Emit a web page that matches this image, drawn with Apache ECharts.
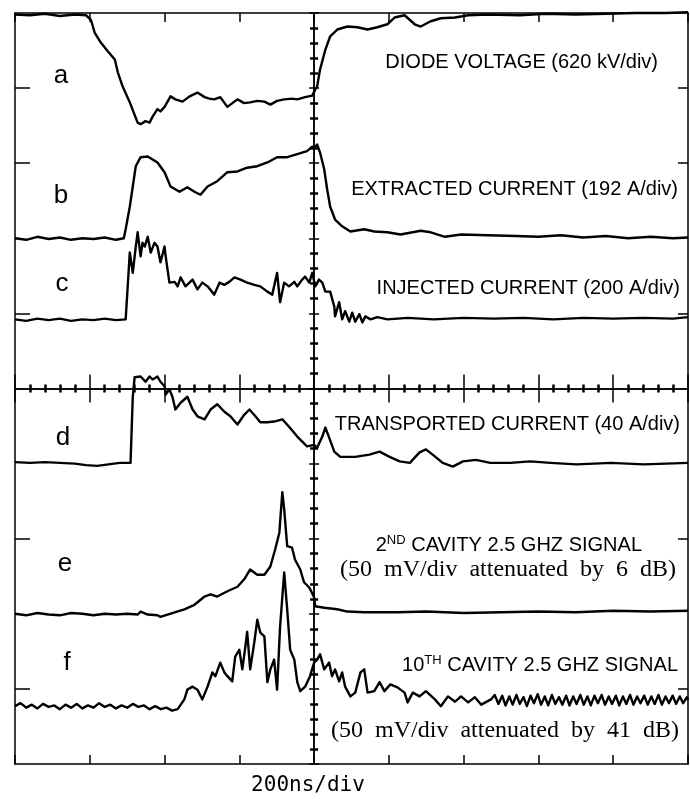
<!DOCTYPE html>
<html>
<head>
<meta charset="utf-8">
<script src="https://cdn.jsdelivr.net/npm/echarts@6/dist/echarts.min.js"></script>
<style>
  html, body { margin: 0; padding: 0; background: #fff; }
  #chart { width: 690px; height: 799px; }
</style>
</head>
<body>
<div id="chart"></div>
<script>
// time in ns (200 ns/div, 0 = centre line), amplitude in divisions
var traceA = [[-800,4.98],[-760,4.97],[-720,4.99],[-680,4.96],[-640,4.98],[-610,4.97],[-597,4.91],[-587,4.74],[-571,4.61],[-552,4.49],[-533,4.38],[-525,4.21],[-512,4.02],[-493,3.81],[-472,3.54],[-464,3.52],[-451,3.56],[-440,3.54],[-432,3.62],[-419,3.72],[-411,3.69],[-400,3.75],[-384,3.89],[-371,3.85],[-352,3.82],[-333,3.89],[-312,3.94],[-293,3.88],[-280,3.86],[-267,3.85],[-251,3.88],[-232,3.75],[-205,3.85],[-187,3.80],[-171,3.81],[-152,3.83],[-133,3.82],[-117,3.78],[-99,3.83],[-80,3.85],[-59,3.86],[-45,3.85],[-24,3.88],[-5,3.90],[3,3.98],[8,4.02],[16,4.25],[30,4.51],[43,4.69],[62,4.78],[89,4.82],[116,4.81],[143,4.78],[169,4.81],[196,4.85],[215,4.94],[242,4.97],[269,4.85],[285,4.82],[312,4.89],[339,4.93],[377,4.94],[412,4.97],[465,4.98],[550,4.97],[620,4.99],[700,4.98],[780,4.99],[860,5.0],[940,5.0],[1000,5.01]];

var traceB = [[-800,2.0],[-770,1.98],[-740,2.02],[-710,1.99],[-680,2.01],[-650,1.98],[-620,2.0],[-590,1.99],[-560,2.01],[-530,1.98],[-509,2.0],[-504,2.12],[-493,2.42],[-485,2.69],[-477,2.96],[-464,3.08],[-445,3.09],[-432,3.05],[-419,3.01],[-400,2.88],[-384,2.69],[-360,2.62],[-339,2.68],[-320,2.62],[-304,2.58],[-285,2.69],[-259,2.76],[-232,2.88],[-205,2.89],[-179,2.94],[-152,2.96],[-125,3.01],[-99,3.08],[-72,3.08],[-45,3.12],[-19,3.16],[-5,3.22],[3,3.21],[8,3.25],[16,3.14],[27,2.92],[35,2.65],[43,2.42],[56,2.25],[75,2.16],[97,2.09],[134,2.12],[161,2.09],[196,2.08],[231,2.05],[285,2.10],[312,2.08],[350,2.02],[393,2.05],[465,2.04],[540,2.03],[600,2.02],[660,2.04],[720,2.01],[780,2.03],[840,2.0],[900,2.02],[960,2.0],[1000,2.01]];

var traceC = [[-800,0.92],[-770,0.90],[-740,0.93],[-710,0.91],[-680,0.93],[-650,0.90],[-620,0.92],[-590,0.91],[-560,0.93],[-530,0.91],[-504,0.92],[-493,1.81],[-485,1.54],[-480,1.76],[-477,1.89],[-472,2.08],[-464,1.76],[-459,1.94],[-453,1.89],[-445,2.02],[-437,1.81],[-427,1.94],[-419,1.89],[-411,1.68],[-400,1.89],[-397,1.76],[-387,1.41],[-373,1.42],[-365,1.36],[-357,1.48],[-344,1.36],[-325,1.45],[-312,1.32],[-299,1.41],[-285,1.36],[-267,1.25],[-253,1.41],[-240,1.38],[-227,1.42],[-213,1.48],[-197,1.45],[-179,1.41],[-160,1.38],[-144,1.36],[-125,1.29],[-112,1.25],[-99,1.54],[-91,1.15],[-80,1.41],[-67,1.36],[-53,1.42],[-45,1.36],[-32,1.45],[-24,1.49],[-13,1.41],[-5,1.54],[3,1.36],[13,1.45],[22,1.41],[30,1.29],[43,1.29],[54,1.09],[56,0.96],[67,1.15],[75,0.92],[83,1.03],[94,0.89],[102,1.01],[110,0.89],[121,0.99],[129,0.88],[137,0.96],[151,0.92],[169,0.95],[196,0.92],[250,0.94],[320,0.92],[400,0.94],[480,0.93],[560,0.94],[640,0.92],[720,0.94],[800,0.93],[880,0.94],[960,0.93],[1000,0.95]];

var traceD = [[-800,-0.98],[-760,-0.99],[-720,-0.98],[-680,-0.99],[-640,-1.0],[-610,-1.02],[-580,-1.03],[-550,-1.01],[-520,-0.99],[-491,-0.99],[-485,-0.11],[-480,0.15],[-464,0.16],[-451,0.09],[-440,0.16],[-432,0.12],[-419,0.16],[-411,0.09],[-400,0.03],[-397,-0.08],[-387,-0.01],[-379,-0.11],[-371,-0.28],[-357,-0.19],[-339,-0.11],[-325,-0.28],[-312,-0.37],[-293,-0.41],[-277,-0.28],[-259,-0.21],[-240,-0.31],[-224,-0.37],[-205,-0.48],[-187,-0.35],[-173,-0.28],[-157,-0.37],[-144,-0.45],[-125,-0.45],[-107,-0.44],[-85,-0.41],[-67,-0.51],[-45,-0.64],[-19,-0.77],[0,-0.75],[8,-0.79],[22,-0.64],[30,-0.52],[40,-0.65],[54,-0.84],[70,-0.91],[110,-0.91],[148,-0.88],[175,-0.84],[202,-0.91],[229,-0.97],[256,-0.99],[282,-0.85],[299,-0.81],[317,-0.88],[344,-0.99],[371,-1.04],[398,-0.97],[433,-0.95],[471,-0.99],[525,-0.99],[578,-0.97],[632,-0.99],[702,-1.01],[794,-0.99],[882,-1.01],[1000,-0.99]];

var traceE = [[-800,-3.0],[-770,-3.02],[-740,-2.99],[-710,-3.01],[-680,-3.02],[-650,-2.99],[-620,-3.0],[-590,-3.02],[-560,-3.0],[-530,-3.01],[-500,-3.0],[-472,-3.01],[-464,-2.97],[-445,-3.01],[-419,-3.02],[-411,-3.04],[-392,-3.01],[-373,-2.98],[-347,-2.94],[-320,-2.88],[-293,-2.77],[-277,-2.74],[-259,-2.77],[-232,-2.70],[-205,-2.64],[-187,-2.54],[-171,-2.41],[-152,-2.48],[-133,-2.48],[-117,-2.37],[-104,-2.14],[-93,-1.92],[-85,-1.38],[-80,-1.61],[-72,-2.10],[-59,-2.12],[-51,-2.28],[-37,-2.41],[-27,-2.58],[-13,-2.65],[0,-2.78],[3,-2.90],[8,-2.90],[27,-2.92],[62,-2.94],[89,-2.97],[134,-2.98],[223,-2.98],[300,-2.97],[400,-2.99],[500,-2.98],[600,-2.97],[700,-2.98],[800,-2.96],[900,-2.97],[1000,-2.96]];

var traceF = [[-800,-4.23],[-785,-4.19],[-770,-4.25],[-755,-4.21],[-740,-4.26],[-725,-4.2],[-710,-4.24],[-695,-4.22],[-680,-4.27],[-665,-4.21],[-650,-4.25],[-635,-4.2],[-620,-4.26],[-605,-4.22],[-590,-4.25],[-575,-4.19],[-560,-4.24],[-545,-4.21],[-530,-4.26],[-515,-4.22],[-500,-4.25],[-485,-4.2],[-470,-4.24],[-455,-4.22],[-440,-4.27],[-425,-4.23],[-410,-4.27],[-395,-4.25],[-380,-4.29],[-365,-4.27],[-347,-4.14],[-339,-4.01],[-325,-3.97],[-312,-4.01],[-299,-4.14],[-285,-3.97],[-272,-3.78],[-264,-3.83],[-251,-3.65],[-240,-3.78],[-232,-3.83],[-219,-3.90],[-211,-3.57],[-200,-3.48],[-192,-3.74],[-184,-3.44],[-179,-3.24],[-171,-3.74],[-160,-3.38],[-152,-3.08],[-144,-3.25],[-133,-3.30],[-125,-3.91],[-117,-3.74],[-107,-3.61],[-99,-4.01],[-91,-3.17],[-80,-2.45],[-72,-2.94],[-64,-3.48],[-53,-3.61],[-45,-3.91],[-37,-4.03],[-24,-3.97],[-11,-3.83],[0,-3.65],[8,-3.61],[16,-3.54],[27,-3.74],[40,-3.65],[48,-3.83],[56,-3.74],[67,-3.90],[75,-3.78],[83,-3.97],[97,-4.10],[110,-4.05],[124,-3.78],[134,-3.74],[143,-4.05],[161,-4.03],[175,-3.91],[188,-4.03],[204,-3.94],[223,-3.98],[242,-4.05],[250,-4.18],[264,-4.05],[282,-4.10],[299,-4.03],[323,-4.14],[339,-4.23],[358,-4.10],[377,-4.17],[393,-4.10],[412,-4.18],[430,-4.11],[447,-4.21],[473,-4.14],[483,-4.08],[493,-4.20],[503,-4.09],[512,-4.22],[522,-4.10],[531,-4.21],[541,-4.08],[550,-4.20],[560,-4.11],[569,-4.23],[579,-4.09],[588,-4.19],[598,-4.07],[607,-4.21],[617,-4.10],[626,-4.22],[636,-4.08],[645,-4.20],[655,-4.11],[664,-4.21],[674,-4.09],[683,-4.22],[693,-4.10],[702,-4.20],[712,-4.08],[721,-4.21],[731,-4.10],[740,-4.22],[750,-4.09],[759,-4.19],[769,-4.08],[778,-4.21],[788,-4.10],[797,-4.20],[807,-4.09],[816,-4.22],[826,-4.10],[835,-4.20],[845,-4.08],[854,-4.21],[864,-4.10],[873,-4.19],[883,-4.09],[892,-4.21],[902,-4.10],[911,-4.20],[921,-4.08],[930,-4.21],[940,-4.10],[949,-4.19],[959,-4.09],[968,-4.20],[978,-4.10],[987,-4.19],[997,-4.11],[1000,-4.15]];

var traces = [traceA, traceB, traceC, traceD, traceE, traceF];
var traceLetters = ["a", "b", "c", "d", "e", "f"];
var sideTicks = [4, 3, 1, -2, -4]; // graticule marks left on the frame edges

var chart = echarts.init(document.getElementById("chart"), null, {renderer: "canvas"});

var black = "#000",
    sans = "Liberation Sans",
    serif = "Liberation Serif",
    rect = {left: 15, top: 13, width: 673, height: 751};

function grid() {
    return {left: rect.left, top: rect.top, width: rect.width, height: rect.height, show: false};
}

function xAx(gi, opt) {
    return Object.assign({
        gridIndex: gi, type: "value", min: -800, max: 1000, interval: 200,
        axisLabel: {show: false}, splitLine: {show: false}
    }, opt);
}

function yAx(gi, opt) {
    return Object.assign({
        gridIndex: gi, type: "value", min: -5, max: 5, interval: 1,
        axisLabel: {show: false}, splitLine: {show: false}
    }, opt);
}

var line = {color: black, width: 1.5},
    dots = {show: true, splitNumber: 5, length: 4, lineStyle: {color: black, width: 2.5}};

var option = {
    animation: false,
    backgroundColor: "#fff",
    grid: [grid(), grid(), grid()],
    xAxis: [
        // centre line, upward ticks
        xAx(0, {axisLine: {onZero: true, lineStyle: line},
            axisTick: {inside: true, length: 14, lineStyle: line}, minorTick: dots}),
        // centre line, downward ticks
        xAx(1, {axisLine: {onZero: true, lineStyle: line},
            axisTick: {inside: false, length: 14, lineStyle: line}, minorTick: dots}),
        // frame bottom / top
        xAx(2, {position: "bottom", axisLine: {onZero: false, lineStyle: line},
            axisTick: {inside: true, length: 9, lineStyle: line}}),
        xAx(2, {position: "top", axisLine: {onZero: false, lineStyle: line},
            axisTick: {inside: true, length: 9, lineStyle: line}})
    ],
    yAxis: [
        yAx(0, {axisLine: {onZero: true, lineStyle: line},
            axisTick: {inside: true, length: 5, lineStyle: line}, minorTick: dots}),
        yAx(1, {axisLine: {onZero: true, lineStyle: line},
            axisTick: {inside: false, length: 5, lineStyle: line}, minorTick: dots}),
        yAx(2, {position: "left", axisLine: {onZero: false, lineStyle: line},
            axisTick: {inside: true, length: 15, customValues: sideTicks, lineStyle: line}}),
        yAx(2, {position: "right", axisLine: {onZero: false, lineStyle: line},
            axisTick: {inside: true, length: 10, customValues: sideTicks, lineStyle: line}})
    ],
    series: traces.map(function(d, i) {
        return {
            name: traceLetters[i],
            type: "line",
            xAxisIndex: 0,
            yAxisIndex: 0,
            data: d,
            symbol: "none",
            clip: false,
            silent: true,
            z: 5,
            lineStyle: {color: black, width: 2.4, join: "round"}
        };
    }),
    graphic: {
        elements: [
            txt(61, 76, "a"), txt(61, 196, "b"), txt(62, 284, "c"),
            txt(63, 438, "d"), txt(65, 564, "e"), txt(67, 663, "f"),
            lab(658, 62, "DIODE VOLTAGE (620 kV/div)"),
            lab(678, 189, "EXTRACTED CURRENT (192 A/div)"),
            lab(680, 288, "INJECTED CURRENT (200 A/div)"),
            lab(680, 424, "TRANSPORTED CURRENT (40 A/div)"),
            lab(642, 545, "2{s|ND} CAVITY 2.5 GHZ SIGNAL"),
            lab(678, 665, "10{s|TH} CAVITY 2.5 GHZ SIGNAL"),
            ser(676, 570, "(50  mV/div  attenuated  by  6  dB)"),
            ser(679, 731, "(50  mV/div  attenuated  by  41  dB)"),
            {type: "text", x: 308, y: 786, z: 10, style: {
                text: "200ns/div", fill: black, align: "center", verticalAlign: "middle",
                font: "21px 'DejaVu Sans Mono'"}}
        ]
    }
};

function txt(x, y, s) {
    return {type: "text", x: x, y: y, z: 10, style: {
        text: s, fill: black, align: "center", verticalAlign: "middle",
        font: "26px '" + sans + "'"}};
}

function lab(x, y, s) {
    return {type: "text", x: x, y: y, z: 10, style: {
        text: s, fill: black, align: "right", verticalAlign: "middle",
        font: "20px '" + sans + "'", lineHeight: 22,
        rich: {s: {fontSize: 13, fontFamily: sans, fill: black, verticalAlign: "top", lineHeight: 22}}}};
}

function ser(x, y, s) {
    return {type: "text", x: x, y: y, z: 10, style: {
        text: s, fill: black, align: "right", verticalAlign: "middle",
        font: "24px '" + serif + "'"}};
}

chart.setOption(option);
</script>
</body>
</html>
